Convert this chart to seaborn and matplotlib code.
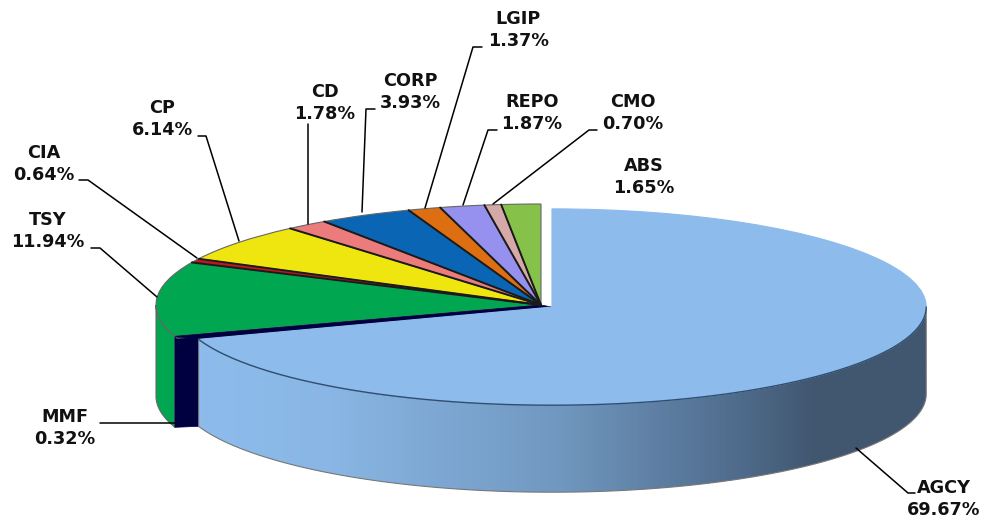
import numpy as np
import seaborn as sns
import matplotlib.pyplot as plt
from matplotlib.colors import LinearSegmentedColormap
from matplotlib.patches import Polygon

# Dados
categorias = ['AGCY', 'MMF', 'TSY', 'CIA', 'CP', 'CD', 'CORP', 'LGIP', 'REPO', 'CMO', 'ABS']
valores = [69.67, 0.32, 11.94, 0.64, 6.14, 1.78, 3.93, 1.37, 1.87, 0.70, 1.65]
cores = ['#8DBCEC', '#000040', '#00A650', '#C4161C', '#F0E60F', '#EC7B7B',
         '#0A66B4', '#DD6E12', '#9690EE', '#D6A9A9', '#86C24A']
destaque = [0.035, 0, 0, 0, 0, 0, 0, 0, 0, 0, 0]

# Layout em pixels da imagem
W, H = 983, 521
CX, CY, RX, RY = 541, 305, 385, 101
PROF = 91 / RY
PROF_AGCY = 87 / RY
pos_rotulos = {'AGCY': (944, 499), 'MMF': (65, 428), 'TSY': (48, 231), 'CIA': (44, 164),
               'CP': (162, 119), 'CD': (325, 103), 'CORP': (410, 92), 'LGIP': (518, 30),
               'REPO': (532, 113), 'CMO': (633, 113), 'ABS': (644, 177)}
guias = [[(915, 493), (908, 493), (856, 448)],
         [(100, 423), (175, 423)],
         [(91, 248), (100, 248), (157, 297)],
         [(79, 180), (88, 180), (197, 258)],
         [(198, 136), (206, 136), (239, 241)],
         [(308, 124), (308, 224)],
         [(375, 109), (366, 109), (362, 212)],
         [(482, 47), (473, 47), (425, 208)],
         [(497, 130), (488, 130), (463, 205)],
         [(597, 130), (589, 130), (493, 204)]]


def px(p):
    return (p[0] - CX) / RX, (CY - p[1]) / RY


def ponto(w, graus):
    t = np.radians(graus)
    return np.array([w.center[0] + w.r * np.cos(t), w.center[1] + w.r * np.sin(t)])


def lateral(w, ini, fim, prof):
    # contorno da parede: arco de cima e arco de baixo
    t = np.radians(np.linspace(ini, fim, 200))
    xs = w.center[0] + w.r * np.cos(t)
    ys = w.center[1] + w.r * np.sin(t)
    return np.r_[np.c_[xs, ys], np.c_[xs[::-1], ys[::-1] - prof]]


sns.set_theme(style='white')
fig = plt.figure(figsize=(W / 100, H / 100), dpi=100, facecolor='white')
ax = fig.add_axes([0, 0, 1, 1])

wedges, _ = ax.pie(valores, colors=sns.color_palette(cores), explode=destaque, startangle=90,
                   counterclock=False, wedgeprops={'edgecolor': '#666666', 'linewidth': 0.8, 'zorder': 5})
ax.set_aspect('auto')
agcy, mmf, tsy = wedges[0], wedges[1], wedges[2]
agcy.set_radius(0.972)
agcy.set_edgecolor('#8DBCEC')
agcy.set_zorder(7)

# angulos das pontas, no intervalo 0-360
fim_agcy = min(agcy.theta1, agcy.theta2) % 360
fim_tsy = max(tsy.theta1, tsy.theta2) % 360

# Parede verde (TSY)
ax.add_patch(Polygon(lateral(tsy, 180, fim_tsy, PROF), closed=True, facecolor=cores[2],
                     edgecolor='#666666', linewidth=0.8, zorder=2))

# Corte escuro entre AGCY e o resto
canto = ponto(tsy, fim_tsy)
canto_agcy = ponto(agcy, fim_agcy)
ax.add_patch(Polygon([canto, canto_agcy, canto_agcy - [0, PROF_AGCY], canto - [0, PROF]], closed=True,
                     facecolor=cores[1], edgecolor=cores[1], linewidth=0.5, zorder=3))
ax.add_patch(Polygon([tsy.center, canto, canto_agcy, agcy.center], closed=True,
                     facecolor=cores[1], edgecolor=cores[1], linewidth=0.5, zorder=6))

# Parede de AGCY com gradiente
gradiente = LinearSegmentedColormap.from_list('agcy', [(0, '#8DBCEC'), (0.18, '#89B6E4'), (0.5, '#7097BF'),
                                                       (0.75, '#4E6A8A'), (0.85, '#41566F'), (1, '#41566F')])
contorno = Polygon(lateral(agcy, fim_agcy, 360, PROF_AGCY), closed=True, facecolor='none',
                   edgecolor='#777777', linewidth=0.8, zorder=4.5)
ax.add_patch(contorno)
x0, x1 = contorno.get_xy()[:, 0].min(), contorno.get_xy()[:, 0].max()
y0, y1 = contorno.get_xy()[:, 1].min(), contorno.get_xy()[:, 1].max()
img = ax.imshow(np.linspace(0, 1, 400).reshape(1, -1), cmap=gradiente, extent=(x0, x1, y0, y1),
                aspect='auto', zorder=4)
img.set_clip_path(contorno)

# Borda escura no topo de AGCY
t = np.radians(np.linspace(fim_agcy, 360, 200))
ax.plot(agcy.center[0] + agcy.r * np.cos(t), agcy.center[1] + agcy.r * np.sin(t),
        color='#2F4E72', linewidth=1, zorder=8)

# Divisorias pretas entre as fatias
for w in wedges[3:]:
    fim = ponto(w, max(w.theta1, w.theta2))
    ax.plot([w.center[0], fim[0]], [w.center[1], fim[1]], color='#1A1A1A', linewidth=1.4, zorder=6)

# Linhas guia
for guia in guias:
    xs, ys = zip(*[px(p) for p in guia])
    ax.plot(xs, ys, color='black', linewidth=1.1, zorder=9)

# Rotulos
for nome, valor in zip(categorias, valores):
    x, y = px(pos_rotulos[nome])
    ax.text(x, y, f'{nome}\n{valor:.2f}%', ha='center', va='center', fontsize=12.7, fontweight='bold',
            color='#111111', family='DejaVu Sans', linespacing=1.22, zorder=10)

ax.set_xlim(-CX / RX, (W - CX) / RX)
ax.set_ylim((CY - H) / RY, CY / RY)
ax.axis('off')

plt.savefig('out.png', dpi=100)
